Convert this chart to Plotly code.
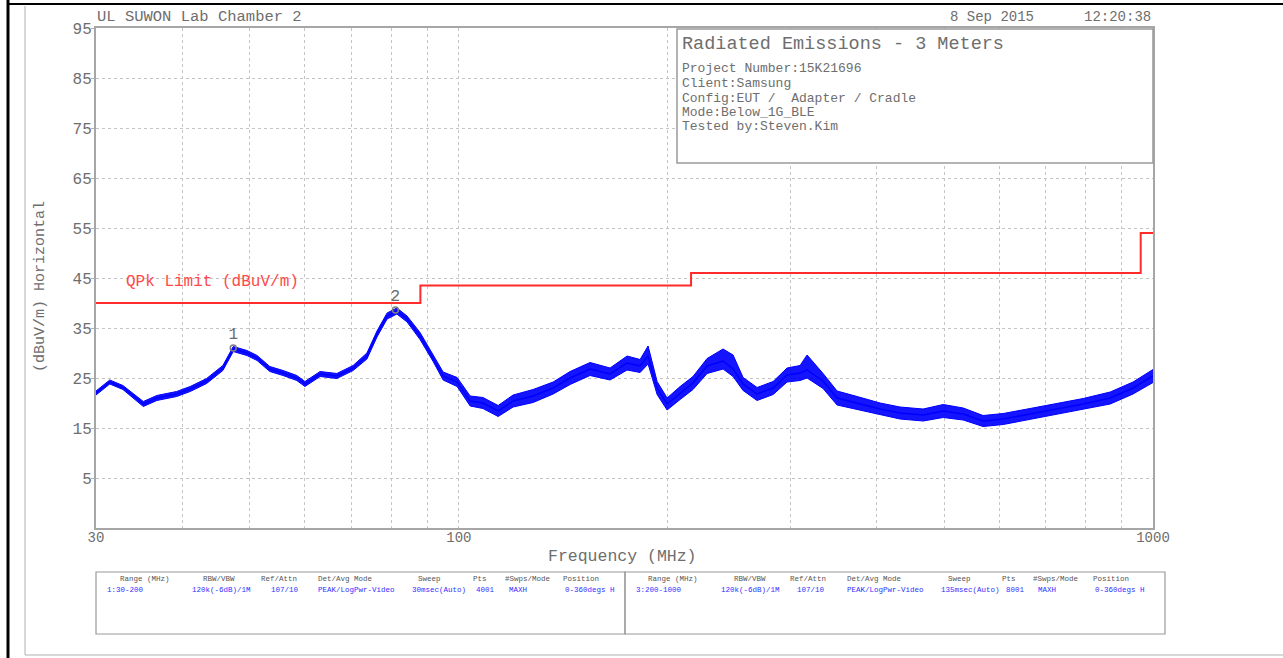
import plotly.graph_objects as go

# ---------------- data ----------------
freq_mhz = [30.0, 31.4, 32.8, 35.1, 36.7, 39.2, 41.0, 43.3, 45.7, 47.3,
            49.5, 51.2, 53.4, 55.8, 58.4, 60.0, 63.1, 66.7, 70.4, 73.7,
            76.2, 78.8, 81.4, 84.2, 87.9, 91.8, 94.9, 99.4, 103.8, 108.3,
            113.9, 119.7, 127.9, 136.7, 144.6, 154.5, 165.1, 174.7, 182.4, 187.3,
            193.0, 199.5, 208.3, 217.4, 227.8, 240.2, 248.3, 256.7, 268.9, 283.6,
            297.0, 310.1, 317.4, 334.7, 350.6, 374.7, 404.4, 432.0, 466.5, 498.6,
            532.8, 569.1, 608.4, 665.1, 727.5, 793.2, 867.6, 936.0, 1000.0]
level_dbuv = [22.0, 24.2, 23.1, 19.8, 21.0, 21.8, 22.8, 24.4, 27.0, 30.8,
              30.0, 29.0, 26.8, 26.0, 25.0, 23.8, 25.8, 25.4, 27.0, 29.4,
              33.8, 37.4, 38.4, 36.8, 33.4, 29.0, 25.4, 24.2, 20.4, 20.0,
              18.4, 20.4, 21.4, 23.0, 25.0, 26.8, 25.8, 28.0, 27.4, 29.4,
              23.0, 19.8, 22.0, 24.0, 27.4, 28.4, 26.8, 23.8, 21.8, 23.0,
              25.6, 26.0, 26.6, 24.4, 21.0, 20.0, 18.8, 18.0, 17.6, 18.4,
              17.8, 16.4, 16.8, 17.8, 18.8, 19.8, 21.0, 23.0, 25.4]
# upper / lower edges of the noisy trace band
upper_dbuv = [22.4, 24.6, 23.5, 20.3, 21.5, 22.3, 23.3, 24.9, 27.5, 31.3,
              30.5, 29.5, 27.3, 26.5, 25.5, 24.3, 26.3, 25.9, 27.5, 30.0,
              34.4, 38.0, 39.0, 37.4, 34.1, 29.7, 26.2, 25.1, 21.4, 21.1,
              19.5, 21.6, 22.7, 24.2, 26.3, 28.1, 27.0, 29.4, 28.7, 31.4,
              24.3, 21.0, 23.3, 25.3, 28.9, 30.8, 29.6, 25.1, 23.1, 24.3,
              27.0, 27.5, 29.6, 25.9, 22.4, 21.3, 20.0, 19.2, 18.8, 19.7,
              19.0, 17.5, 17.9, 18.9, 19.9, 20.9, 22.2, 24.2, 26.7]
lower_dbuv = [21.6, 23.8, 22.7, 19.3, 20.5, 21.3, 22.3, 23.9, 26.5, 30.3,
              29.5, 28.5, 26.3, 25.5, 24.5, 23.3, 25.3, 24.9, 26.5, 28.8,
              33.2, 36.8, 37.8, 36.2, 32.7, 28.3, 24.6, 23.3, 19.4, 18.9,
              17.3, 19.2, 20.1, 21.8, 23.7, 25.5, 24.6, 26.6, 26.1, 27.8,
              21.7, 18.6, 20.7, 22.7, 25.9, 26.8, 25.3, 22.5, 20.5, 21.7,
              24.2, 24.5, 25.0, 22.9, 19.6, 18.7, 17.6, 16.8, 16.4, 17.1,
              16.6, 15.3, 15.7, 16.7, 17.7, 18.7, 19.8, 21.8, 24.1]

limit_freq = [30, 88, 216, 960, 1000]
limit_level = [40, 43.5, 46, 54, 54]

marker_freq = [47.3, 81.0]
marker_level = [31.0, 38.6]
marker_labels = ["1", "2"]

y_ticks = [5, 15, 25, 35, 45, 55, 65, 75, 85, 95]
x_ticks = [30, 100, 1000]
x_minor = [40, 50, 60, 70, 80, 90, 200, 300, 400, 500, 600, 700, 800, 900]

header_left = "UL SUWON Lab Chamber 2"
header_date = "8 Sep 2015"
header_time = "12:20:38"
info_title = "Radiated Emissions - 3 Meters"
info_lines = ["Project Number:15K21696", "Client:Samsung",
              "Config:EUT /  Adapter / Cradle", "Mode:Below_1G_BLE",
              "Tested by:Steven.Kim"]

table_headers = ["Range (MHz)", "RBW/VBW", "Ref/Attn", "Det/Avg Mode",
                 "Sweep", "Pts", "#Swps/Mode", "Position"]
table_row1 = ["1:30-200", "120k(-6dB)/1M", "107/10", "PEAK/LogPwr-Video",
              "30msec(Auto)", "4001", "MAXH", "0-360degs H"]
table_row2 = ["3:200-1000", "120k(-6dB)/1M", "107/10", "PEAK/LogPwr-Video",
              "135msec(Auto)", "8001", "MAXH", "0-360degs H"]

# ---------------- layout helpers (pixel -> paper) ----------------
W, H = 1283, 658
L, R, T, B = 96, 1153, 28, 528


def px(x):
    return (x - L) / (R - L)


def py(y):
    return (B - y) / (B - T)


TXT = "#6e6e6e"
GRID = "#c4c4c4"
FONT = "Liberation Mono"

fig = go.Figure()
fig.add_trace(go.Scatter(x=freq_mhz, y=lower_dbuv, mode="lines",
                         line=dict(color="#0000ff", width=1), hoverinfo="skip"))
fig.add_trace(go.Scatter(x=freq_mhz, y=upper_dbuv, mode="lines", fill="tonexty",
                         fillcolor="rgba(0,0,255,0.92)",
                         line=dict(color="#0000ff", width=1), hoverinfo="skip"))
fig.add_trace(go.Scatter(x=freq_mhz, y=level_dbuv, mode="lines",
                         line=dict(color="#0000ff", width=1.5)))
fig.add_trace(go.Scatter(x=limit_freq, y=limit_level, mode="lines",
                         line=dict(color="#ff2a2a", width=2, shape="hv")))
fig.add_trace(go.Scatter(x=marker_freq, y=marker_level, mode="markers+text",
                         marker=dict(symbol="circle-open", size=6,
                                     color="#808080", line=dict(width=1.5)),
                         text=marker_labels, textposition="top center",
                         textfont=dict(family=FONT, size=16, color="#6a6a6a")))

fig.update_layout(
    width=W, height=H,
    margin=dict(l=L, r=W - R, t=T, b=H - B),
    paper_bgcolor="white", plot_bgcolor="white",
    showlegend=False,
    xaxis=dict(type="log", range=[1.4771213, 3.0],
               tickvals=x_ticks, ticktext=[str(v) for v in x_ticks],
               showgrid=True, gridcolor=GRID, griddash="dot", gridwidth=1,
               minor=dict(tickvals=x_minor, showgrid=True, gridcolor=GRID,
                          griddash="dot", gridwidth=1, ticks=""),
               showline=True, mirror=True, linecolor="#a6a6a6", linewidth=2,
               ticks="", zeroline=False, ticklabelstandoff=-5,
               tickfont=dict(family=FONT, size=14, color=TXT)),
    yaxis=dict(range=[-5, 95], tickvals=y_ticks,
               showgrid=True, gridcolor=GRID, griddash="dot", gridwidth=1,
               showline=True, mirror=True, linecolor="#a6a6a6", linewidth=2,
               ticks="outside", ticklen=3, tickcolor="#b4b4b4", zeroline=False,
               ticklabelstandoff=-4,
               tickfont=dict(family=FONT, size=16, color=TXT)),
)

shapes = []
# info box
shapes.append(dict(type="rect", xref="paper", yref="paper",
                   x0=px(677), x1=px(1153), y0=py(163), y1=py(29),
                   fillcolor="white", line=dict(color="#9a9a9a", width=1.5),
                   layer="above"))
# table boxes
shapes.append(dict(type="rect", xref="paper", yref="paper",
                   x0=px(96), x1=px(625), y0=py(634), y1=py(572),
                   line=dict(color="#9a9a9a", width=1.2)))
shapes.append(dict(type="rect", xref="paper", yref="paper",
                   x0=px(625), x1=px(1165), y0=py(634), y1=py(572),
                   line=dict(color="#9a9a9a", width=1.2)))
# page frame lines
shapes.append(dict(type="line", xref="paper", yref="paper",
                   x0=px(8), x1=px(8), y0=py(0), y1=py(658),
                   line=dict(color="black", width=3)))
shapes.append(dict(type="line", xref="paper", yref="paper",
                   x0=px(8), x1=px(1283), y0=py(4), y1=py(4),
                   line=dict(color="black", width=2)))
shapes.append(dict(type="line", xref="paper", yref="paper",
                   x0=px(25), x1=px(25), y0=py(6), y1=py(655),
                   line=dict(color="#b0b0b0", width=1)))
shapes.append(dict(type="line", xref="paper", yref="paper",
                   x0=px(25), x1=px(1283), y0=py(655), y1=py(655),
                   line=dict(color="#b0b0b0", width=1)))
fig.update_layout(shapes=shapes)

ann = []


def txt(x, y, s, size, color=TXT, family=FONT, xanchor="left", angle=0):
    ann.append(dict(x=px(x), y=py(y), xref="paper", yref="paper", text=s,
                    showarrow=False, xanchor=xanchor, yanchor="middle",
                    textangle=angle,
                    font=dict(family=family, size=size, color=color)))


txt(95, 17, header_left, 15.5)
txt(1036, 17, header_date, 14, xanchor="right")
txt(1153, 17, header_time, 14, xanchor="right")
txt(680, 44, info_title, 18.5)
for i, line in enumerate(info_lines):
    txt(680, 69 + i * 14.5, line, 13)
txt(124, 282, "QPk Limit (dBuV/m)", 16, color="#ff4a4a")
txt(622, 556, "Frequency (MHz)", 16.5, xanchor="center")
txt(40, 287, "(dBuV/m) Horizontal", 15, angle=-90, xanchor="center")

left_hdr_x = [145, 219, 279, 345, 429, 480, 527, 581]
left_val_x = [105, 190, 269, 316, 410, 474, 507, 563]
right_hdr_x = [673, 750, 808, 874, 959, 1009, 1055, 1111]
right_val_x = [634, 719, 795, 845, 939, 1004, 1036, 1093]
for i in range(len(table_headers)):
    txt(left_hdr_x[i], 579, table_headers[i], 7.5, color="#555555",
        xanchor="center")
    txt(right_hdr_x[i], 579, table_headers[i], 7.5, color="#555555",
        xanchor="center")
    txt(left_val_x[i], 590, table_row1[i], 7.5, color="#2f2fff")
    txt(right_val_x[i], 590, table_row2[i], 7.5, color="#2f2fff")

fig.update_layout(annotations=ann)

fig.write_html("out.html", config={"displayModeBar": False},
               post_script="document.body.style.margin='0';"
                           "document.body.style.overflow='hidden';")
